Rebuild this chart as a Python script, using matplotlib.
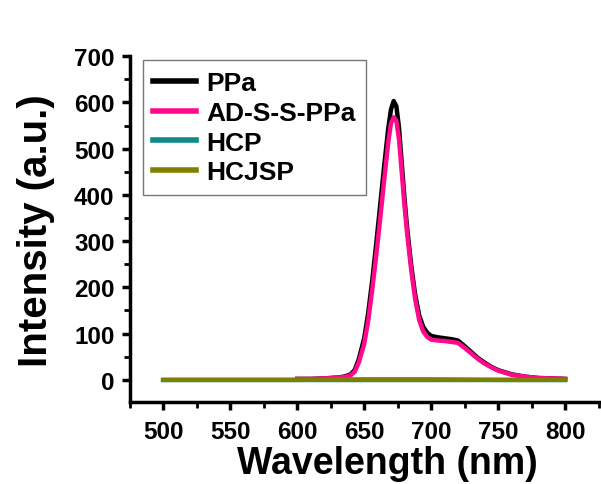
import numpy as np
import matplotlib
matplotlib.use("Agg")
import matplotlib.pyplot as plt
from matplotlib.ticker import MultipleLocator

plt.rcParams['font.family'] = ['Liberation Sans', 'DejaVu Sans']
plt.rcParams['font.weight'] = 'bold'

# PPa / AD-S-S-PPa emission spectra
wl_ppa = [600, 610, 620, 630, 635, 640, 643, 646, 650, 653, 656, 659, 662, 665,
          668, 670, 672, 674, 676, 678, 680, 682, 685, 688, 691, 694, 697, 700,
          705, 710, 715, 720, 725, 730, 735, 740, 745, 750, 760, 770, 780, 790, 800]
ppa = [2, 2, 3, 5, 7, 12, 22, 45, 90, 145, 215, 295, 380, 465,
       545, 585, 603, 592, 545, 470, 395, 330, 250, 185, 140, 115, 102, 95,
       92, 90, 88, 85, 73, 60, 47, 37, 28, 21, 12, 7, 4, 3, 2]
ad_ss_ppa = [2, 2, 3, 5, 6, 10, 18, 38, 78, 128, 195, 270, 350, 435,
             515, 555, 568, 560, 520, 450, 380, 318, 240, 175, 130, 105, 93, 87,
             85, 84, 82, 80, 69, 57, 45, 35, 27, 20, 11, 7, 4, 3, 2]

# HCP / HCJSP: flat baseline
wl_hc = [500, 550, 600, 650, 700, 750, 800]
hcp = [0, 0, 0, 0, 0, 0, 0]
hcjsp = [0, 0, 0, 1, 1, 0, 0]

fig = plt.figure(figsize=(6.01, 4.85), dpi=100)
ax = fig.add_axes([0.216, 0.169, 0.78, 0.713])

ax.plot(wl_ppa, ppa, color='black', lw=3.2, label='PPa')
ax.plot(wl_ppa, ad_ss_ppa, color='#ff0a8c', lw=3.2, label='AD-S-S-PPa')
ax.plot(wl_hc, hcp, color='#0e8a88', lw=3.2, label='HCP')
ax.plot(wl_hc, hcjsp, color='#808000', lw=3.2, label='HCJSP')

ax.set_xlim(475, 825)
ax.set_ylim(-48, 700)
ax.xaxis.set_major_locator(MultipleLocator(50))
ax.xaxis.set_minor_locator(MultipleLocator(25))
ax.yaxis.set_major_locator(MultipleLocator(100))
ax.yaxis.set_minor_locator(MultipleLocator(50))

for s in ['top', 'right']:
    ax.spines[s].set_visible(False)
for s in ['left', 'bottom']:
    ax.spines[s].set_linewidth(2.5)

ax.tick_params(which='major', direction='out', length=6, width=2.5, labelsize=17.5)
ax.tick_params(axis='x', which='major', pad=7)
ax.tick_params(axis='y', which='major', pad=5)
ax.tick_params(which='minor', direction='out', length=4, width=2)
for lab in ax.get_xticklabels() + ax.get_yticklabels():
    lab.set_fontweight('bold')

ax.set_xlabel('Wavelength (nm)', fontsize=27, fontweight='bold')
ax.set_ylabel('Intensity (a.u.)', fontsize=29, fontweight='bold')
ax.xaxis.set_label_coords(0.55, -0.125)
ax.yaxis.set_label_coords(-0.16, 0.5)

leg = ax.legend(loc='upper left', bbox_to_anchor=(0.028, 0.988),
                prop={'weight': 'bold', 'size': 19}, fancybox=False,
                edgecolor='#555555', handlelength=1.6, labelspacing=0.22,
                borderpad=0.4, handletextpad=0.4, borderaxespad=0)
leg.get_frame().set_linewidth(1)
for h in leg.get_lines():
    h.set_linewidth(4)

fig.savefig('out.png', dpi=100)
